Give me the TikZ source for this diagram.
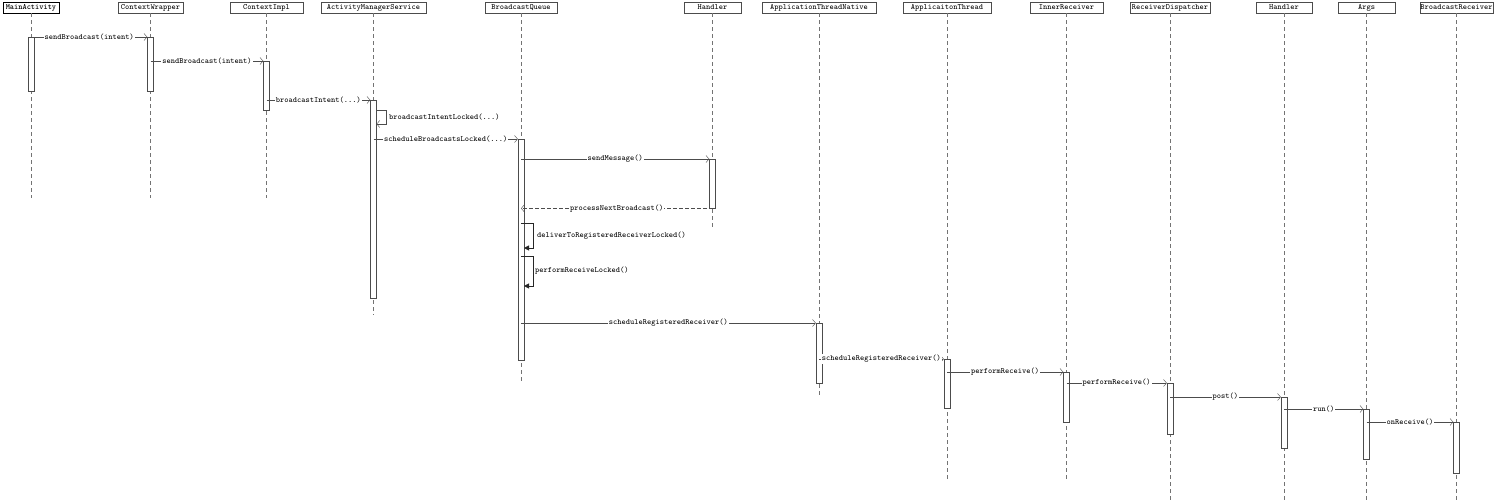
\documentclass[tikz,border=0pt]{standalone}
\usepackage{fontspec}
\usetikzlibrary{arrows.meta}
\newcommand{\seqfont}{\fontsize{8}{9}\selectfont\ttfamily}

\begin{document}
\begin{tikzpicture}[x=1pt,y=-1pt,
        head/.style={draw=black!70,fill=white,minimum height=11pt,inner sep=0pt,font=\seqfont},
        life/.style={draw=black!55,dash pattern=on 4pt off 3pt},
        act/.style={draw=black!70,fill=white,minimum width=6pt,inner sep=0pt,anchor=north},
        msg/.style={draw=black!70,-{Straight Barb[length=3pt,width=7pt]}},
        ret/.style={msg,dash pattern=on 4pt off 2pt},
        selfcall/.style={draw=black!85,-{Triangle[length=5pt,width=5pt]}},
        lbl/.style={fill=white,inner sep=1pt,font=\seqfont}]
        \useasboundingbox (0,0) rectangle (1500,500);
        % heads
        \node[head,draw=black,minimum width=56pt] (hMain) at (31,7.5) {\bfseries MainActivity};
        \node[head,minimum width=65pt] (hWrap) at (150.5,7.5) {ContextWrapper};
        \node[head,minimum width=73pt] (hImpl) at (266.5,7.5) {ContextImpl};
        \node[head,minimum width=105pt] (hAMS) at (373.5,7.5) {ActivityManagerService};
        \node[head,minimum width=72pt] (hQueue) at (521,7.5) {BroadcastQueue};
        \node[head,minimum width=57pt] (hHandler) at (712.5,7.5) {Handler};
        \node[head,minimum width=114pt] (hATN) at (819,7.5) {ApplicationThreadNative};
        \node[head,minimum width=88pt] (hAT) at (947,7.5) {ApplicaitonThread};
        \node[head,minimum width=73pt] (hInner) at (1066.5,7.5) {InnerReceiver};
        \node[head,minimum width=80pt] (hDisp) at (1170,7.5) {ReceiverDispatcher};
        \node[head,minimum width=56pt] (hPost) at (1284,7.5) {Handler};
        \node[head,minimum width=57pt] (hArgs) at (1366.5,7.5) {Args};
        \node[head,minimum width=73pt] (hRecv) at (1456.5,7.5) {BroadcastReceiver};
        % lifeline ends
        \coordinate (eMain) at (31,198);
        \coordinate (eWrap) at (150.5,198);
        \coordinate (eImpl) at (266.5,198);
        \coordinate (eAMS) at (373.5,315);
        \coordinate (eQueue) at (521,383);
        \coordinate (eHandler) at (712.5,228);
        \coordinate (eATN) at (819,398);
        \coordinate (eAT) at (947,480);
        \coordinate (eInner) at (1066.5,480);
        \coordinate (eDisp) at (1170,500);
        \coordinate (ePost) at (1284,500);
        \coordinate (eArgs) at (1366.5,500);
        \coordinate (eRecv) at (1456.5,500);
        \draw[life] (hMain) -- (eMain);
        \draw[life] (hWrap) -- (eWrap);
        \draw[life] (hImpl) -- (eImpl);
        \draw[life] (hAMS) -- (eAMS);
        \draw[life] (hQueue) -- (eQueue);
        \draw[life] (hHandler) -- (eHandler);
        \draw[life] (hATN) -- (eATN);
        \draw[life] (hAT) -- (eAT);
        \draw[life] (hInner) -- (eInner);
        \draw[life] (hDisp) -- (eDisp);
        \draw[life] (hPost) -- (ePost);
        \draw[life] (hArgs) -- (eArgs);
        \draw[life] (hRecv) -- (eRecv);
        % activations
        \node[act,minimum height=54pt] (aMain) at (31,37) {};
        \node[act,minimum height=54pt] (aWrap) at (150.5,37) {};
        \node[act,minimum height=49pt] (aImpl) at (266.5,61) {};
        \node[act,minimum height=198pt] (aAMS) at (373.5,100) {};
        \node[act,minimum height=221pt] (aQueue) at (521,139) {};
        \node[act,minimum height=49pt] (aHandler) at (712.5,159) {};
        \node[act,minimum height=60pt] (aATN) at (819,323) {};
        \node[act,minimum height=49pt] (aAT) at (947,359) {};
        \node[act,minimum height=50pt] (aInner) at (1066.5,372) {};
        \node[act,minimum height=51pt] (aDisp) at (1170,383) {};
        \node[act,minimum height=51pt] (aPost) at (1284,397) {};
        \node[act,minimum height=50pt] (aArgs) at (1366.5,409) {};
        \node[act,minimum height=51pt] (aRecv) at (1456.5,422) {};
        % messages
        \draw[msg] (aMain.north) -- (aWrap.north west) node[lbl,midway] {sendBroadcast(intent)};
        \draw[msg] (aWrap.center |- aImpl.north) -- (aImpl.north west) node[lbl,midway] {sendBroadcast(intent)};
        \draw[msg] (aImpl.center |- aAMS.north) -- (aAMS.north west) node[lbl,midway] {broadcastIntent(...)};
        \coordinate (sAMSa) at (376.5,110);
        \coordinate (sAMSb) at (376.5,124);
        \draw[msg] (sAMSa) -- (386,110) -- (386,124) -- (sAMSb);
        \node[font=\seqfont,anchor=west,inner sep=0pt] (lAMS) at (389,117) {broadcastIntentLocked(...)};
        \draw[msg] (aAMS.center |- aQueue.north) -- (aQueue.north west) node[lbl,midway] {scheduleBroadcastsLocked(...)};
        \draw[msg] (aQueue.center |- aHandler.north) -- (aHandler.north west) node[lbl,midway] {sendMessage()};
        \draw[ret] (aHandler.south) -- (aQueue.center |- aHandler.south) node[lbl,midway] {processNextBroadcast()};
        \coordinate (sDelA) at (521,223);
        \coordinate (sDelB) at (524,248);
        \draw[selfcall] (sDelA) -- (533,223) -- (533,248) -- (sDelB);
        \node[font=\seqfont,anchor=west,inner sep=0pt] (lDel) at (537,236) {deliverToRegisteredReceiverLocked()};
        \coordinate (sPerA) at (521,256);
        \coordinate (sPerB) at (524,286);
        \draw[selfcall] (sPerA) -- (533,256) -- (533,286) -- (sPerB);
        \node[font=\seqfont,anchor=west,inner sep=0pt] (lPer) at (535,271) {performReceiveLocked()};
        \draw[msg] (aQueue.center |- aATN.north) -- (aATN.north west) node[lbl,midway] {scheduleRegisteredReceiver()};
        \draw[msg] (aATN.center |- aAT.north) -- (aAT.north west) node[lbl,midway] {scheduleRegisteredReceiver()};
        \draw[msg] (aAT.center |- aInner.north) -- (aInner.north west) node[lbl,midway] {performReceive()};
        \draw[msg] (aInner.center |- aDisp.north) -- (aDisp.north west) node[lbl,midway] {performReceive()};
        \draw[msg] (aDisp.center |- aPost.north) -- (aPost.north west) node[lbl,midway] {post()};
        \draw[msg] (aPost.center |- aArgs.north) -- (aArgs.north west) node[lbl,midway] {run()};
        \draw[msg] (aArgs.center |- aRecv.north) -- (aRecv.north west) node[lbl,midway] {onReceive()};
\end{tikzpicture}
\end{document}
